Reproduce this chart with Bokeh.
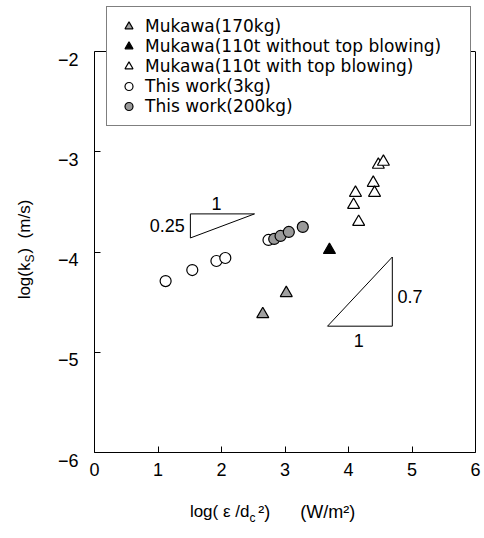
import math
from bokeh.plotting import figure
from bokeh.models import Label, Legend, LegendItem, FixedTicker, Range1d, LinearAxis, Span
from bokeh.embed import file_html
from bokeh.resources import INLINE

# ---- data ----
muk170_x = [2.65, 3.02]
muk170_y = [-4.62, -4.41]
muk110_no_x = [3.70]
muk110_no_y = [-3.98]
muk110_top_x = [4.11, 4.08, 4.16, 4.39, 4.41, 4.47, 4.55]
muk110_top_y = [-3.41, -3.53, -3.70, -3.31, -3.41, -3.13, -3.10]
work3_x = [1.12, 1.54, 1.92, 2.06, 2.74]
work3_y = [-4.29, -4.18, -4.09, -4.06, -3.88]
work200_x = [2.83, 2.93, 3.06, 3.28]
work200_y = [-3.87, -3.84, -3.80, -3.75]

legend_labels = ["Mukawa(170kg)", "Mukawa(110t without top blowing)",
                 "Mukawa(110t with top blowing)", "This work(3kg)", "This work(200kg)"]

x_ticks = [0, 1, 2, 3, 4, 5, 6]
y_ticks = [-2, -3, -4, -5, -6]
X_MIN, X_MAX = 0, 6
Y_MIN, Y_MAX = -6, -2

# slope guide triangles
slope1_x = [1.51, 2.52, 1.51]
slope1_y = [-3.62, -3.62, -3.86]
slope2_x = [3.67, 4.69, 4.69]
slope2_y = [-4.74, -4.74, -4.05]

TICK_FONT = "Liberation Sans"
TEXT_FONT = "DejaVu Sans"
LF = "Liberation Sans"
NB = "\u00a0"

# frame: 381 x 452 px; the part above y=-2 holds the legend
FRAME_H = 452
PX_PER_Y = 100.25
y_top = Y_MIN + FRAME_H / PX_PER_Y

p = figure(width=484, height=538, x_range=Range1d(X_MIN, X_MAX), y_range=Range1d(Y_MIN, y_top),
           output_backend="svg", toolbar_location=None,
           min_border_left=94, min_border_right=9, min_border_top=0, min_border_bottom=86)
p.background_fill_color = "white"
p.border_fill_color = "white"
p.xgrid.visible = False
p.ygrid.visible = False
p.outline_line_color = None

for ax in (p.xaxis, p.yaxis):
    ax.minor_tick_line_color = None
    ax.major_tick_in = 6
    ax.major_tick_out = 0
    ax.axis_line_color = "black"
    ax.major_tick_line_color = "black"
    ax.major_label_text_font = TICK_FONT
    ax.major_label_text_font_size = "18px"
    ax.major_label_text_color = "black"

p.xaxis.ticker = FixedTicker(ticks=x_ticks)
p.xaxis.major_label_standoff = 10
p.yaxis.ticker = FixedTicker(ticks=y_ticks)
p.yaxis.bounds = (Y_MIN, Y_MAX)
p.yaxis.major_label_standoff = 16
# the reference prints the y tick labels a little below their ticks:
# an empty first line pushes each label down by half a line
p.yaxis.major_label_text_line_height = 0.8
p.yaxis.major_label_overrides = {float(t): "\n\u2212" + str(abs(t)) for t in y_ticks}

# right border of the plot box
right_ax = LinearAxis(ticker=FixedTicker(ticks=[]), bounds=(Y_MIN, Y_MAX),
                      major_tick_in=0, major_tick_out=0, minor_tick_line_color=None,
                      axis_line_color="black")
p.add_layout(right_ax, "right")
# top border of the plot box
p.add_layout(Span(location=Y_MAX, dimension="width", line_color="black", line_width=1))

# slope triangles
p.patch(slope1_x, slope1_y, fill_color=None, line_color="black", line_width=1)
p.patch(slope2_x, slope2_y, fill_color=None, line_color="black", line_width=1)
for (lx, ly, txt, al) in [(1.92, -3.52, "1", "center"), (1.42, -3.74, "0.25", "right"),
                          (4.77, -4.44, "0.7", "left"), (4.16, -4.88, "1", "center")]:
    p.add_layout(Label(x=lx, y=ly, text=txt, text_align=al, text_baseline="middle",
                       text_font=TICK_FONT, text_font_size="18px", text_color="black"))

# data
r1 = p.scatter(muk170_x, muk170_y, marker="triangle", size=12, fill_color="#a0a0a0",
               line_color="black", line_width=1.2)
r2 = p.scatter(muk110_no_x, muk110_no_y, marker="triangle", size=12, fill_color="black",
               line_color="black", line_width=1.2)
r3 = p.scatter(muk110_top_x, muk110_top_y, marker="triangle", size=12, fill_color="white",
               line_color="black", line_width=1.2)
r4 = p.scatter(work3_x, work3_y, marker="circle", size=11, fill_color="white",
               line_color="black", line_width=1.2)
r5 = p.scatter(work200_x, work200_y, marker="circle", size=11, fill_color="#9a9a9a",
               line_color="black", line_width=1.2)

legend = Legend(items=[LegendItem(label=lab, renderers=[r]) for lab, r in
                       zip(legend_labels, [r1, r2, r3, r4, r5])],
                location=(12, 326), padding=9, spacing=0, glyph_width=25, glyph_height=20,
                label_height=20, label_width=316, label_standoff=4, margin=0,
                label_text_font=TEXT_FONT, label_text_font_size="17px",
                label_text_color="black", border_line_color="black", border_line_width=1,
                background_fill_color="white", background_fill_alpha=1.0)
p.add_layout(legend)

# x axis title (pieces, placed in the bottom panel)
XY = -6.59
p.add_layout(Label(x=2.44, y=XY, text="log( \u03b5 /d", text_align="right", text_baseline="middle",
                   text_font=LF, text_font_size="17px", text_color="black"), "below")
p.add_layout(Label(x=2.44, y=XY, text="c", text_align="left", text_baseline="middle", y_offset=-6,
                   text_font=LF, text_font_size="12px", text_color="black"), "below")
p.add_layout(Label(x=2.58, y=XY, text="\u00b2)" + NB * 6 + "(W/m\u00b2)", text_align="left",
                   text_baseline="middle", text_font=LF, text_font_size="18px",
                   text_color="black"), "below")

# y axis title (rotated pieces, placed in the left panel)
YX = -1.10
A = math.pi / 2
p.add_layout(Label(x=YX, y=-4.105, text="log(k", angle=A, text_align="right", text_baseline="middle",
                   text_font=LF, text_font_size="17px", text_color="black"), "left")
p.add_layout(Label(x=YX, y=-4.105, text="S", angle=A, text_align="left", text_baseline="middle",
                   x_offset=5, text_font=LF, text_font_size="12px", text_color="black"), "left")
p.add_layout(Label(x=YX, y=-4.015, text=")" + NB * 2 + "(m/s)", angle=A, text_align="left",
                   text_baseline="middle", text_font=LF, text_font_size="17px",
                   text_color="black"), "left")

open("out.html", "w").write(file_html(p, INLINE))
